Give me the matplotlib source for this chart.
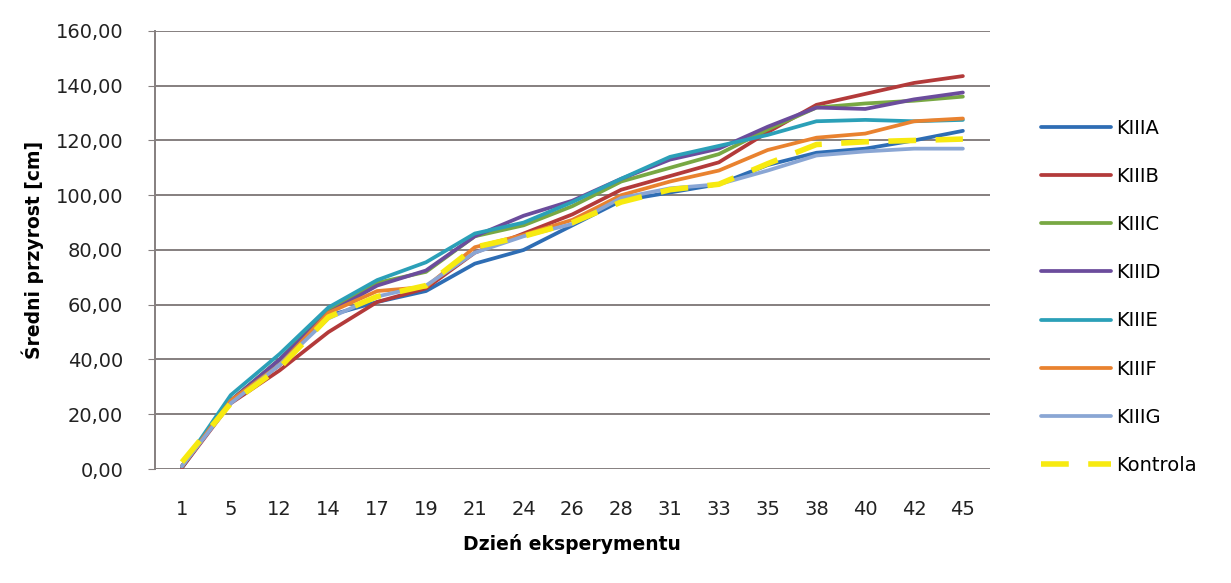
import numpy as np
import matplotlib
matplotlib.use("Agg")
import matplotlib.pyplot as plt

# days of the experiment (categorical x axis)
days = ["1", "5", "12", "14", "17", "19", "21", "24", "26", "28", "31", "33", "35", "38", "40", "42", "45"]

kiiia = [0.5, 25, 38, 56, 61, 65, 75, 80, 89, 98, 101, 104, 111, 115.5, 117, 120, 123.5]
kiiib = [0.5, 24, 36, 50, 61, 66, 79, 86, 93, 102, 107, 112, 123, 133, 137, 141, 143.5]
kiiic = [1, 25, 40, 58, 68, 72, 85, 89, 96, 105, 110, 115, 124, 132, 133.5, 134.5, 136]
kiiid = [1, 25, 40, 57, 67, 72.5, 85, 92.5, 98, 106, 113, 117, 125, 132, 131.5, 135, 137.5]
kiiie = [1, 27, 42, 59, 69, 75.5, 86, 90, 97.5, 106, 114, 118, 122, 127, 127.5, 127, 127.5]
kiiif = [1, 25, 38, 57, 65, 66.5, 81, 85.5, 91, 100, 105, 109, 116.5, 121, 122.5, 127, 128]
kiiig = [1, 24, 38, 55, 63, 67, 79, 85, 89.5, 99, 102.5, 104, 109, 114.5, 116, 117, 117]
kontrola = [2.5, 24, 37, 55.5, 63, 67, 81, 85, 90, 97.5, 102, 104, 111.5, 118.5, 119.5, 120, 120.5]

series = [
    ("KIIIA", kiiia, "#2e6db4"),
    ("KIIIB", kiiib, "#b33a3a"),
    ("KIIIC", kiiic, "#78a843"),
    ("KIIID", kiiid, "#6b4c9c"),
    ("KIIIE", kiiie, "#2ba0b8"),
    ("KIIIF", kiiif, "#e9822f"),
    ("KIIIG", kiiig, "#8aa6d4"),
]

plt.rcParams['font.family'] = ['DejaVu Sans']

fig = plt.figure(figsize=(12.31, 5.83), dpi=100)
ax = fig.add_axes([0.126, 0.1955, 0.678, 0.7515])

x = np.arange(len(days))
for name, vals, col in series:
    ax.plot(x, vals, color=col, lw=2.7, label=name, solid_capstyle='round')
ax.plot(x, kontrola, color="#f7ea10", lw=4, dashes=(5, 3.5), label="Kontrola")

ax.set_xlim(-0.55, len(days) - 0.45)
ax.set_ylim(0, 160)
ax.set_yticks(np.arange(0, 161, 20))
ax.set_yticklabels([f"{v:.2f}".replace(".", ",") for v in np.arange(0, 161, 20)], fontsize=14, color="#222222")
ax.set_xticks(x)
ax.set_xticklabels(days, fontsize=14, color="#222222")
ax.tick_params(axis='x', length=0, pad=22)
ax.tick_params(axis='y', length=5, color="#857f7f", pad=18)

ax.grid(axis='y', color="#857f7f", lw=1.4)
ax.set_axisbelow(True)
for s in ["top", "right", "bottom"]:
    ax.spines[s].set_visible(False)
ax.spines["left"].set_color("#857f7f")
ax.spines["left"].set_linewidth(1.4)

ax.set_xlabel("Dzień eksperymentu", fontsize=13.5, fontweight='bold', labelpad=11)
ax.set_ylabel("Średni przyrost [cm]", fontsize=13.5, fontweight='bold', labelpad=8)

leg = ax.legend(loc='center left', bbox_to_anchor=(1.04, 0.393), frameon=False,
                fontsize=14, handlelength=3.6, handletextpad=0.3, labelspacing=1.5)

fig.savefig("out.png", dpi=100)
